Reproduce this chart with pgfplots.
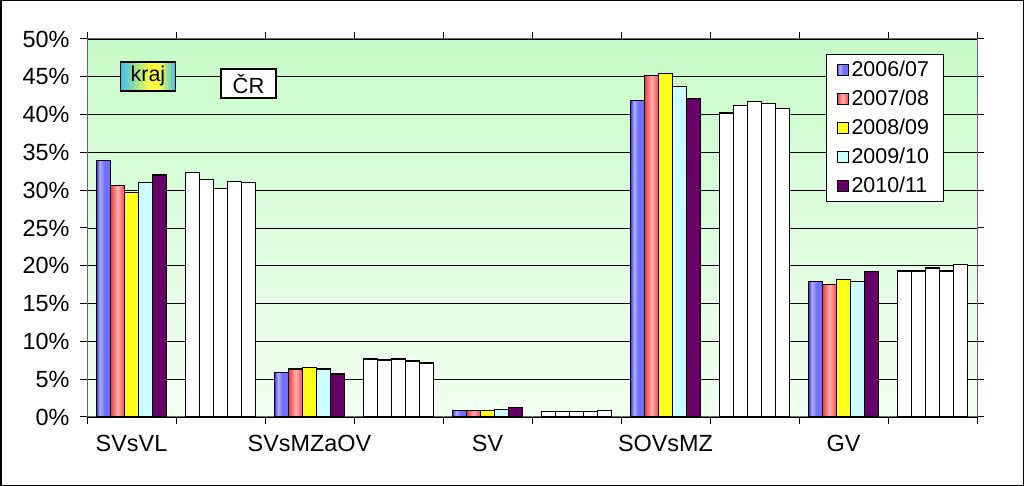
\documentclass[border=0pt]{standalone}
\usepackage{pgfplots}
\pgfplotsset{compat=1.18}
\usepackage{fontspec}
\setmainfont{Liberation Sans}
\definecolor{bluebar}{HTML}{7070FF}
\definecolor{bluedark}{HTML}{4040D8}
\definecolor{bluelight}{HTML}{B0B0FF}
\definecolor{redbar}{HTML}{FF6060}
\definecolor{reddark}{HTML}{E84040}
\definecolor{redlight}{HTML}{FFB0B0}
\definecolor{yelbar}{HTML}{FFFF1A}
\definecolor{cyanbar}{HTML}{CCFFFF}
\definecolor{purbar}{HTML}{660066}
\definecolor{bgtop}{HTML}{C8FAC8}
\definecolor{bgbot}{HTML}{F2FFF2}
\definecolor{krajA}{HTML}{3CBEF2}
\definecolor{krajB}{HTML}{FFFF40}
\pgfdeclarehorizontalshading{blueshade}{100bp}{color(0bp)=(bluedark); color(25bp)=(bluedark); color(36bp)=(bluelight); color(52bp)=(bluebar); color(72bp)=(bluebar); color(75bp)=(bluedark); color(100bp)=(bluedark)}
\pgfdeclarehorizontalshading{redshade}{100bp}{color(0bp)=(reddark); color(25bp)=(reddark); color(50bp)=(redlight); color(68bp)=(redbar); color(75bp)=(redbar); color(100bp)=(redbar)}
\pgfdeclarehorizontalshading{krajshade}{100bp}{color(0bp)=(krajA); color(25bp)=(krajA); color(52bp)=(krajB); color(60bp)=(krajB); color(75bp)=(krajA); color(100bp)=(krajA)}
\pgfplotstableread{
x s1 s2 s3 s4 s5
0 33.9 30.6 29.7 31.0 32.0
2 5.87 6.35 6.6 6.35 5.7
4 0.85 0.85 0.85 1.0 1.28
6 41.9 45.2 45.4 43.7 42.1
8 17.9 17.5 18.2 17.9 19.2
}\krajtab
\pgfplotstableread{
x s1 s2 s3 s4 s5
1 32.3 31.4 30.2 31.1 31.0
3 7.67 7.54 7.67 7.4 7.14
5 0.75 0.75 0.75 0.75 0.88
7 40.2 41.2 41.7 41.5 40.8
9 19.3 19.3 19.7 19.3 20.2
}\crtab
\newcommand{\tlfont}{\fontsize{23.5}{26}\selectfont}
\begin{document}
\begin{tikzpicture}
\useasboundingbox (0,0) rectangle (1024bp,486bp);
\draw[black, line width=1.5bp] (0.75bp,0.75bp) rectangle (1023.25bp,485.25bp);
\begin{axis}[
  at={(87bp,69bp)}, anchor=south west,
  scale only axis, width=890bp, height=378bp,
  xmin=-0.5, xmax=9.5, ymin=0, ymax=50,
  axis background/.style={top color=bgtop, bottom color=bgbot},
  axis line style={draw=gray!80!black, line width=1bp},
  ytick={0,5,...,50},
  yticklabels={{\tlfont 0\%},{\tlfont 5\%},{\tlfont 10\%},{\tlfont 15\%},{\tlfont 20\%},{\tlfont 25\%},{\tlfont 30\%},{\tlfont 35\%},{\tlfont 40\%},{\tlfont 45\%},{\tlfont 50\%}},
  /pgf/number format/assume math mode=true,
  xtick={0,...,9},
  xticklabels={SVsVL,,SVsMZaOV,,SV,,SOVsMZ,,GV,},
  minor xtick={-0.5,0.5,...,9.5},
  tick align=outside,
  major x tick style={draw=none},
  minor tick length=7bp,
  major tick length=7bp,
  tick style={black, line width=1bp},
  ymajorgrids, major grid style={black, line width=0.8bp},
  xticklabel style={font=\tlfont, yshift=-8bp},
  yticklabel style={font=\tlfont, xshift=-7bp},
  legend style={at={(0.962,0.96)}, anchor=north east, draw=black, fill=white,
    font=\fontsize{21.5}{24}\selectfont, row sep=8bp, inner xsep=11bp, inner ysep=5bp,
    nodes={inner xsep=3bp}},
  legend cell align=left,
  legend image code/.code={\draw[#1,draw=black,line width=0.8bp] (0bp,-5.5bp) rectangle (11bp,5.5bp);},
  clip=false,
]
\pgfplotsset{every axis plot/.append style={ybar, bar width=13.9bp, draw=black, line width=1.2bp}}
\addplot[bar shift=-27.8bp, shade, shading=blueshade, restrict x to domain=0:0] table[x=x,y=s1]{\krajtab};
\addplot[bar shift=-13.9bp, shade, shading=redshade, restrict x to domain=0:0] table[x=x,y=s2]{\krajtab};
\addplot[bar shift=0bp, fill=yelbar] table[x=x,y=s3]{\krajtab};
\addplot[bar shift=13.9bp, fill=cyanbar] table[x=x,y=s4]{\krajtab};
\addplot[bar shift=27.8bp, fill=purbar] table[x=x,y=s5]{\krajtab};
\legend{2006/07,2007/08,2008/09,2009/10,2010/11}
\pgfplotsinvokeforeach{2,4,6,8}{
  \addplot[forget plot, bar shift=-27.8bp, shade, shading=blueshade, restrict x to domain=#1:#1] table[x=x,y=s1]{\krajtab};
  \addplot[forget plot, bar shift=-13.9bp, shade, shading=redshade, restrict x to domain=#1:#1] table[x=x,y=s2]{\krajtab};
}
\addplot[forget plot, bar shift=-27.8bp, fill=white] table[x=x,y=s1]{\crtab};
\addplot[forget plot, bar shift=-13.9bp, fill=white] table[x=x,y=s2]{\crtab};
\addplot[forget plot, bar shift=0bp, fill=white] table[x=x,y=s3]{\crtab};
\addplot[forget plot, bar shift=13.9bp, fill=white] table[x=x,y=s4]{\crtab};
\addplot[forget plot, bar shift=27.8bp, fill=white] table[x=x,y=s5]{\crtab};
\node[draw=black, line width=1.2bp, shade, shading=krajshade, minimum width=55bp, minimum height=29bp, inner sep=0pt, font=\fontsize{21.5}{24}\selectfont] at (rel axis cs:0.0685,0.901) {kraj};
\node[draw=black, line width=1.2bp, fill=white, minimum width=55bp, minimum height=29bp, inner sep=0pt, font=\fontsize{22}{24}\selectfont] at (rel axis cs:0.1815,0.882) {ČR};
\end{axis}
\end{tikzpicture}
\end{document}
